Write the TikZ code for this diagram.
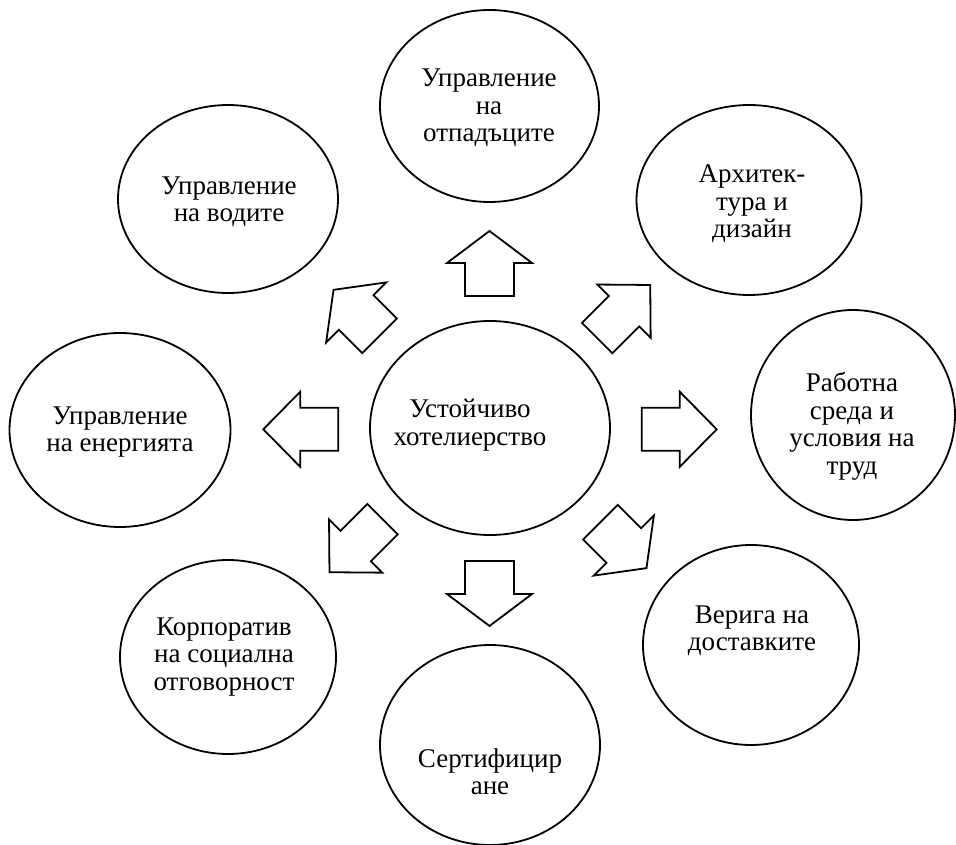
\documentclass[tikz,border=0pt]{standalone}
\usepackage{fontspec}
\setmainfont{Liberation Serif}
\usetikzlibrary{shapes.geometric}
\begin{document}
\begin{tikzpicture}[x=1pt,y=-1pt,
  oval/.style={draw, line width=1.8pt, ellipse, inner sep=0pt, outer sep=0pt},
  lbl/.style={align=center, font=\fontsize{27}{27.5}\selectfont, inner sep=0pt},
  arrline/.style={draw, line width=1.8pt, line join=miter, fill=white},
  bigarrow/.pic={\path[arrline] (0,-24.5) -- (33,-24.5) -- (33,-42.5) -- (65,0) -- (33,42.5) -- (33,24.5) -- (0,24.5) -- cycle;},
  smallarrow/.pic={\path[arrline] (0,-21.5) -- (38,-21.5) -- (38,-37.6) -- (75,0) -- (38,37.6) -- (38,21.5) -- (0,21.5) -- cycle;}
]
\fill[white] (0,0) rectangle (956,845);
\useasboundingbox (0,0) rectangle (956,845);

% ellipses
\node[oval, minimum width=240pt, minimum height=214pt] (c) at (490,428) {};
\node[oval, minimum width=219pt, minimum height=192pt] (t) at (489.5,106) {};
\node[oval, minimum width=220pt, minimum height=188pt] (tl) at (228,199) {};
\node[oval, minimum width=225pt, minimum height=190pt] (tr) at (749,200) {};
\node[oval, minimum width=221pt, minimum height=194pt] (l) at (120,430) {};
\node[oval, minimum width=204pt, minimum height=210pt] (r) at (853,415) {};
\node[oval, minimum width=216pt, minimum height=194pt] (bl) at (228,657) {};
\node[oval, minimum width=216pt, minimum height=200pt] (br) at (751,645) {};
\node[oval, minimum width=220pt, minimum height=200pt] (b) at (490,745) {};

% texts
\node[lbl] (ct) at (470,425) {Устойчиво\\хотелиерство};
\node[lbl] (tt) at (489,108) {Управление\\на\\отпадъците};
\node[lbl] (tlt) at (229,202) {Управление\\на водите};
\node[lbl] (trt) at (752,204) {Архитек-\\тура и\\дизайн};
\node[lbl] (lt) at (120,432) {Управление\\на енергията};
\node[lbl] (rt) at (852,426) {Работна\\среда и\\условия на\\труд};
\node[lbl] (blt) at (224,657) {Корпоратив\\на социална\\отговорност};
\node[lbl] (brt) at (752,631) {Верига на\\доставките};
\node[lbl] (bt) at (490,772) {Сертифицир\\ане};

% block arrows
\pic[rotate=90] at (489.5,296) {bigarrow};
\pic[rotate=-90] at (489.5,561) {bigarrow};
\pic[rotate=135] at (379.5,335.8) {bigarrow};
\pic[rotate=-45] at (600.5,522.2) {bigarrow};
\pic[rotate=180] at (338.3,429.3) {smallarrow};
\pic at (641.7,429.3) {smallarrow};
\pic[rotate=45] at (597.2,338) {smallarrow};
\pic[rotate=-135] at (382.5,519.2) {smallarrow};
\end{tikzpicture}
\end{document}
